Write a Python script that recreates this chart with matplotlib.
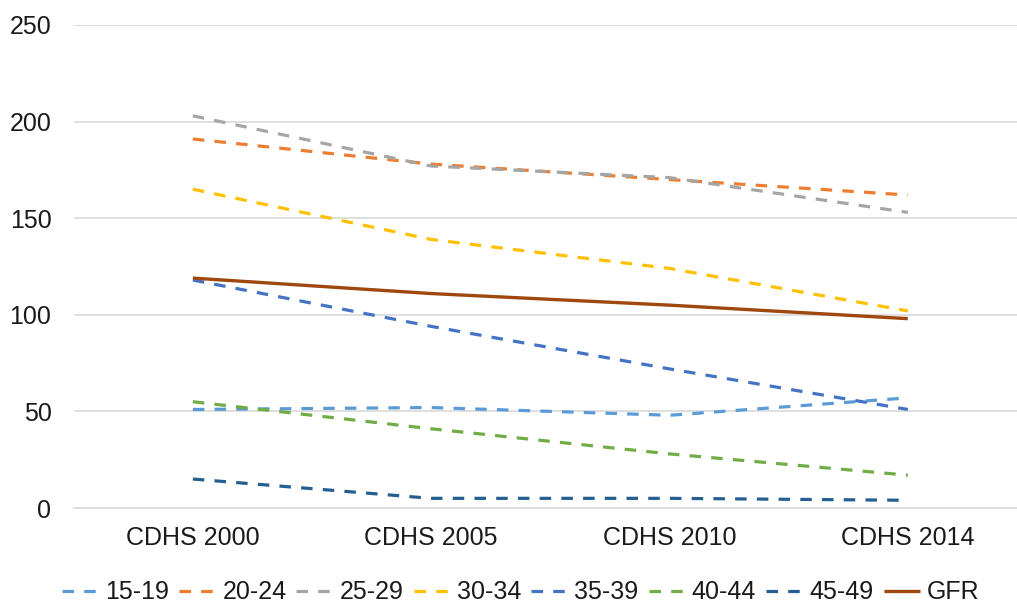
import matplotlib
matplotlib.use("Agg")
import matplotlib.pyplot as plt

categories = ["CDHS 2000", "CDHS 2005", "CDHS 2010", "CDHS 2014"]
series_names = ["15-19", "20-24", "25-29", "30-34", "35-39", "40-44", "45-49", "GFR"]
v_15_19 = [51, 52, 48, 57]
v_20_24 = [191, 178, 170, 162]
v_25_29 = [203, 177, 171, 153]
v_30_34 = [165, 139, 124, 102]
v_35_39 = [118, 94, 72, 51]
v_40_44 = [55, 41, 28, 17]
v_45_49 = [15, 5, 5, 4]
v_gfr = [119, 111, 105, 98]
y_ticks = [0, 50, 100, 150, 200, 250]

colors = ["#5B9BD5", "#ED7D31", "#A5A5A5", "#FFC000", "#4472C4", "#70AD47", "#255E91", "#9E480E"]
values = [v_15_19, v_20_24, v_25_29, v_30_34, v_35_39, v_40_44, v_45_49, v_gfr]

plt.rcParams['font.family'] = ['Liberation Sans', 'DejaVu Sans']

fig = plt.figure(figsize=(10.17, 6.07), dpi=100)
ax = fig.add_axes([73.7 / 1017, (607 - 508) / 607, (1027 - 73.7) / 1017, 483 / 607])

x = list(range(len(categories)))
handles = []
for name, vals, c in zip(series_names, values, colors):
    if name == "GFR":
        h, = ax.plot(x, vals, color=c, lw=2.4, solid_capstyle='butt', label=name, zorder=3)
    else:
        h, = ax.plot(x, vals, color=c, lw=2.3, dashes=(3.6, 3.2), dash_capstyle='butt', label=name, zorder=3)
    handles.append(h)

ax.set_xlim(-0.5, 3.5)
ax.set_ylim(0, 250)
ax.set_yticks(y_ticks)
ax.set_xticks(x)
ax.set_xticklabels(categories)
ax.grid(axis='y', color='#D9D9D9', lw=1.2, zorder=0)
ax.set_axisbelow(True)
for s in ['top', 'right', 'left']:
    ax.spines[s].set_visible(False)
ax.spines['bottom'].set_color('#D9D9D9')
ax.spines['bottom'].set_linewidth(1.2)
ax.tick_params(axis='both', length=0, labelsize=18, colors='#1a1a1a')
ax.tick_params(axis='x', pad=13)
ax.tick_params(axis='y', pad=16)

fig.legend(handles=handles, labels=series_names, loc='center', bbox_to_anchor=(0.512, 0.024),
           ncol=8, frameon=False, fontsize=18, handlelength=1.45, handletextpad=0.28,
           columnspacing=0.4, labelcolor='#1a1a1a', borderpad=0.1)

fig.savefig("out.png", dpi=100)
